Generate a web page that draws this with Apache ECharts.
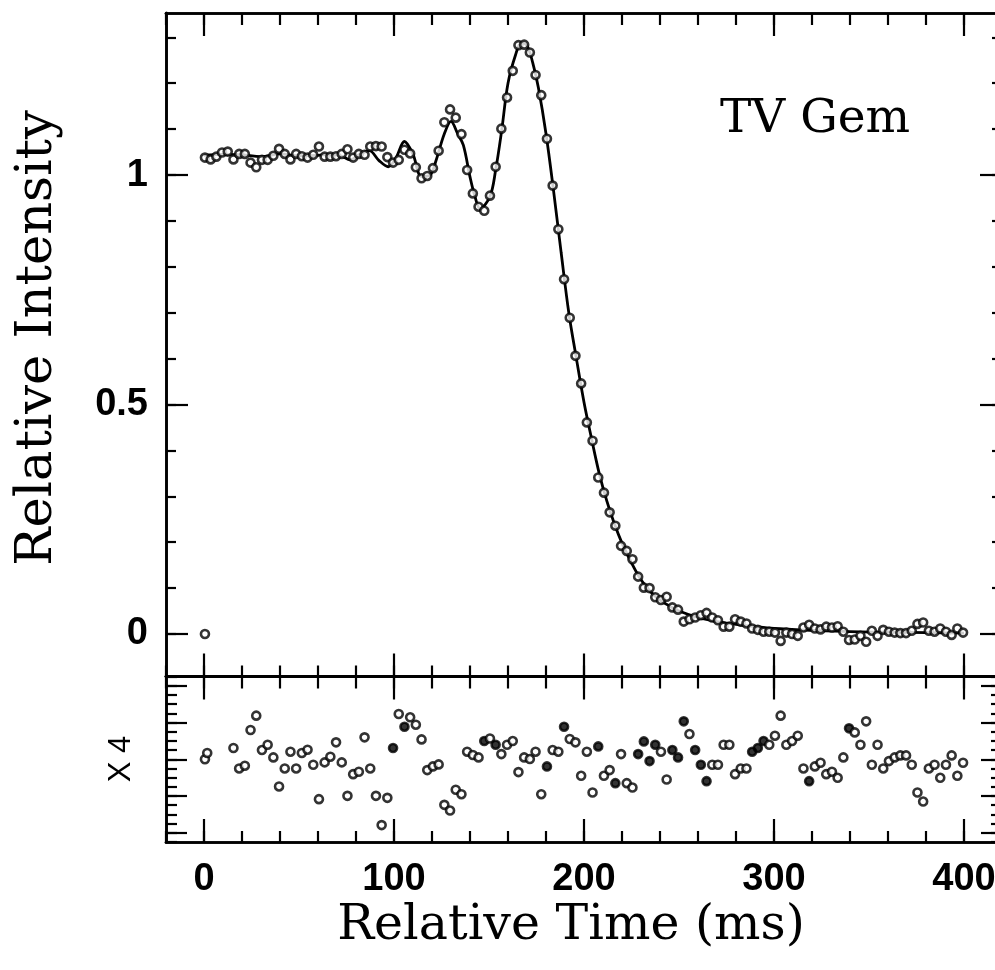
<!DOCTYPE html>
<html>
<head>
<meta charset="utf-8">
<script src="https://cdn.jsdelivr.net/npm/echarts@6/dist/echarts.min.js"></script>
<style>
html,body{margin:0;padding:0;background:#fff;}
#c{width:995px;height:970px;}
</style>
</head>
<body>
<div id="c"></div>
<script>
// ---------------- data ----------------
const timeMs = [
0.5,3.5,6.5,9.5,12.5,15.5,18.5,21.5,24.5,27.5,
30.5,33.5,36.5,39.5,42.5,45.5,48.5,51.5,54.5,57.5,
60.5,63.5,66.5,69.5,72.5,75.5,78.5,81.5,84.5,87.5,
90.5,93.5,96.5,99.5,102.5,105.5,108.5,111.5,114.5,117.5,
120.5,123.5,126.5,129.5,132.5,135.5,138.5,141.5,144.5,147.5,
150.5,153.5,156.5,159.5,162.5,165.5,168.5,171.5,174.5,177.5,
180.5,183.5,186.5,189.5,192.5,195.5,198.5,201.5,204.5,207.5,
210.5,213.5,216.5,219.5,222.5,225.5,228.5,231.5,234.5,237.5,
240.5,243.5,246.5,249.5,252.5,255.5,258.5,261.5,264.5,267.5,
270.5,273.5,276.5,279.5,282.5,285.5,288.5,291.5,294.5,297.5,
300.5,303.5,306.5,309.5,312.5,315.5,318.5,321.5,324.5,327.5,
330.5,333.5,336.5,339.5,342.5,345.5,348.5,351.5,354.5,357.5,
360.5,363.5,366.5,369.5,372.5,375.5,378.5,381.5,384.5,387.5,
390.5,393.5,396.5,399.5
];
const intensity = [
1.038,1.034,1.040,1.049,1.051,1.034,1.046,1.046,1.027,1.017,
1.033,1.033,1.042,1.057,1.046,1.034,1.046,1.041,1.038,1.044,
1.062,1.040,1.040,1.041,1.046,1.056,1.038,1.046,1.044,1.062,
1.063,1.062,1.039,1.027,1.033,1.055,1.047,1.017,0.993,0.998,
1.015,1.053,1.115,1.143,1.125,1.089,1.011,0.960,0.931,0.922,
0.955,1.018,1.101,1.169,1.227,1.283,1.284,1.267,1.218,1.174,
1.079,0.977,0.882,0.773,0.689,0.606,0.546,0.461,0.421,0.341,
0.308,0.265,0.236,0.192,0.181,0.163,0.125,0.101,0.100,0.080,
0.074,0.081,0.058,0.053,0.027,0.032,0.036,0.041,0.046,0.036,
0.030,0.016,0.016,0.032,0.027,0.023,0.012,0.009,0.005,0.005,
0.003,-0.015,0.003,0.000,-0.004,0.014,0.020,0.012,0.010,0.016,
0.014,0.017,0.005,-0.013,-0.012,-0.004,-0.017,0.007,-0.004,0.009,
0.005,0.003,0.002,0.002,0.007,0.022,0.025,0.007,0.005,0.012,
0.005,-0.002,0.012,0.003
];
// isolated zero-level marker
const zeroMarkTime = [0.5];
const zeroMarkValue = [0.0];

// fitted model curve
const modelTime = [
0,10,20,30,40,50,60,66,72,77,82,87,92,97,101,105.5,110,114.5,119,122,
126.5,130,133.5,136.5,140,142.5,145.3,150.5,153.5,156.7,160,164,167,170,173,176,180,184,188,192,
196,200,204,208,212,216,220,225,230,235,240,245,250,260,270,280,290,300,320,340,
360,380,400
];
const modelIntensity = [
1.043,1.045,1.044,1.040,1.046,1.042,1.043,1.045,1.042,1.033,1.045,1.053,1.032,1.018,1.037,1.073,1.045,0.997,1.000,1.030,
1.090,1.117,1.090,1.065,0.996,0.955,0.927,0.953,1.011,1.098,1.200,1.262,1.288,1.282,1.245,1.190,1.090,0.965,0.830,0.700,
0.600,0.505,0.425,0.350,0.290,0.240,0.198,0.155,0.118,0.092,0.074,0.061,0.050,0.036,0.027,0.021,0.016,0.012,0.008,0.005,
0.004,0.003,0.002
];

// residuals (observed - model), plotted magnified x4
const residualTime = [
0.5,1.7,
15.5,18.5,21.5,24.5,27.5,
30.5,33.5,36.5,39.5,42.5,45.5,48.5,51.5,54.5,57.5,
60.5,63.5,66.5,69.5,72.5,75.5,78.5,81.5,84.5,87.5,
90.5,93.5,96.5,99.5,102.5,105.5,108.5,111.5,114.5,117.5,
120.5,123.5,126.5,129.5,132.5,135.5,138.5,141.5,144.5,147.5,
150.5,153.5,156.5,159.5,162.5,165.5,168.5,171.5,174.5,177.5,
180.5,183.5,186.5,189.5,192.5,195.5,198.5,201.5,204.5,207.5,
210.5,213.5,216.5,219.5,222.5,225.5,228.5,231.5,234.5,237.5,
240.5,243.5,246.5,249.5,252.5,255.5,258.5,261.5,264.5,267.5,
270.5,273.5,276.5,279.5,282.5,285.5,288.5,291.5,294.5,297.5,
300.5,303.5,306.5,309.5,312.5,315.5,318.5,321.5,324.5,327.5,
330.5,333.5,336.5,339.5,342.5,345.5,348.5,351.5,354.5,357.5,
360.5,363.5,366.5,369.5,372.5,375.5,378.5,381.5,384.5,387.5,
390.5,393.5,396.5,399.5
];
const residual = [
0.0000,0.0034,
0.0061,-0.0050,-0.0035,0.0159,0.0237,
0.0050,0.0079,0.0010,-0.0148,-0.0050,0.0041,-0.0050,0.0034,0.0052,-0.0030,
-0.0217,-0.0017,0.0014,0.0092,-0.0017,-0.0199,-0.0081,-0.0068,0.0119,-0.0050,
-0.0199,-0.0358,-0.0210,0.0061,0.0246,0.0177,0.0228,0.0188,0.0108,-0.0059,
-0.0039,-0.0028,-0.0248,-0.0279,-0.0166,-0.0190,0.0041,0.0023,0.0010,0.0099,
0.0113,0.0079,0.0028,0.0079,0.0099,-0.0070,0.0010,0.0001,0.0041,-0.0190,
-0.0039,0.0050,0.0041,0.0177,0.0110,0.0092,-0.0090,0.0041,-0.0181,0.0070,
-0.0090,-0.0059,-0.0130,0.0028,-0.0130,-0.0154,0.0028,0.0097,-0.0010,0.0079,
0.0041,-0.0110,0.0050,0.0010,0.0206,0.0137,0.0050,-0.0030,-0.0119,-0.0030,
-0.0030,0.0079,0.0079,-0.0081,-0.0050,-0.0050,0.0041,0.0061,0.0099,0.0079,
0.0128,0.0237,0.0079,0.0099,0.0128,-0.0050,-0.0119,-0.0039,-0.0019,-0.0081,
-0.0068,-0.0101,0.0010,0.0168,0.0146,0.0079,0.0206,-0.0030,0.0079,-0.0050,
-0.0010,0.0010,0.0021,0.0021,-0.0030,-0.0181,-0.0230,-0.0050,-0.0030,-0.0101,
-0.0030,0.0021,-0.0090,-0.0019
];
// residual points that print as solid dots
const residualSolidTimes = [99.5,105.5,147.5,153.5,180.5,189.5,207.5,216.5,228.5,231.5,234.5,237.5,246.5,249.5,252.5,258.5,261.5,264.5,288.5,291.5,294.5,318.5,339.5];

// tick positions / labels
const xMinorTicks = [-20,0,20,40,60,80,100,120,140,160,180,200,220,240,260,280,300,320,340,360,380,400,420];
const xMajorTicks = [0,100,200,300,400];
const xTickLabels = [0,100,200,300,400];
const yMinorTicks = [0,0.1,0.2,0.3,0.4,0.5,0.6,0.7,0.8,0.9,1.0,1.1,1.2,1.3];
const yMajorTicks = [0,0.5,1];
const yTickLabels = [0,0.5,1];
const resMinorTicks = [-0.045,-0.04,-0.035,-0.03,-0.025,-0.02,-0.015,-0.01,-0.005,0,0.005,0.01,0.015,0.02,0.025,0.03,0.035,0.04,0.045];
const resMajorTicks = [-0.04,-0.02,0,0.02,0.04];

// ---------------- chart ----------------
const INK = '#000';
const LABEL_FONT = {color: INK, fontFamily: 'Liberation Sans', fontWeight: 'bold', fontSize: 38};

function xAxisDef(grid, pos, ticks, len, labels) {
  return {
    type: 'value', gridIndex: grid, position: pos, min: -20, max: 420,
    axisLine: {show: true, onZero: false, lineStyle: {color: INK, width: 2.6}},
    axisTick: {show: true, inside: true, length: len, customValues: ticks, lineStyle: {color: INK, width: 2.2}},
    axisLabel: labels ? Object.assign({show: true, customValues: labels, margin: 19}, LABEL_FONT) : {show: false},
    splitLine: {show: false}
  };
}
function yAxisDef(grid, pos, min, max, ticks, len, labels) {
  return {
    type: 'value', gridIndex: grid, position: pos, min: min, max: max,
    axisLine: {show: true, onZero: false, lineStyle: {color: INK, width: 2.6}},
    axisTick: {show: true, inside: true, length: len, customValues: ticks, lineStyle: {color: INK, width: 2.2}},
    axisLabel: labels ? Object.assign({show: true, customValues: labels, margin: 18}, LABEL_FONT) : {show: false},
    splitLine: {show: false}
  };
}

const MAIN_MIN = -0.0926, MAIN_MAX = 1.353;
const RES_MIN = -0.045, RES_MAX = 0.045;

const xAxes = [
  xAxisDef(0, 'bottom', xMinorTicks, 11),
  xAxisDef(0, 'bottom', xMajorTicks, 23),
  xAxisDef(0, 'top', xMinorTicks, 12),
  xAxisDef(0, 'top', xMajorTicks, 23),
  xAxisDef(1, 'bottom', xMinorTicks, 11),
  xAxisDef(1, 'bottom', xMajorTicks, 23, xTickLabels),
  xAxisDef(1, 'top', xMinorTicks, 12),
  xAxisDef(1, 'top', xMajorTicks, 23)
];
const yAxes = [
  yAxisDef(0, 'left', MAIN_MIN, MAIN_MAX, yMinorTicks, 10),
  yAxisDef(0, 'left', MAIN_MIN, MAIN_MAX, yMajorTicks, 22, yTickLabels),
  yAxisDef(0, 'right', MAIN_MIN, MAIN_MAX, yMinorTicks, 10),
  yAxisDef(0, 'right', MAIN_MIN, MAIN_MAX, yMajorTicks, 22),
  yAxisDef(1, 'left', RES_MIN, RES_MAX, resMinorTicks, 11),
  yAxisDef(1, 'left', RES_MIN, RES_MAX, resMajorTicks, 21),
  yAxisDef(1, 'right', RES_MIN, RES_MAX, resMinorTicks, 11),
  yAxisDef(1, 'right', RES_MIN, RES_MAX, resMajorTicks, 21)
];

const hollow = {color: '#fff', borderColor: INK, borderWidth: 2.6};

const option = {
  animation: false,
  backgroundColor: '#fff',
  grid: [
    {left: 166, top: 13, width: 836, height: 663.5, containLabel: false, outerBoundsMode: 'none'},
    {left: 166, top: 676.5, width: 836, height: 165.5, containLabel: false, outerBoundsMode: 'none'}
  ],
  xAxis: xAxes,
  yAxis: yAxes,
  graphic: [
    {type: 'text', x: 815, y: 120, style: {text: 'TV Gem', font: '47px "DejaVu Serif"', fill: INK, align: 'center', verticalAlign: 'middle'}},
    {type: 'text', x: 571, y: 926, style: {text: 'Relative Time (ms)', font: '49px "DejaVu Serif"', fill: INK, align: 'center', verticalAlign: 'middle'}},
    {type: 'text', x: 38, y: 338, rotation: Math.PI / 2, style: {text: 'Relative Intensity', font: '51px "DejaVu Serif"', fill: INK, align: 'center', verticalAlign: 'middle'}},
    {type: 'text', x: 121, y: 759, rotation: Math.PI / 2, style: {text: 'X 4', font: '31px "Liberation Sans"', fill: INK, align: 'center', verticalAlign: 'middle'}}
  ],
  series: [
    {
      name: 'model', type: 'line', xAxisIndex: 0, yAxisIndex: 0,
      data: modelTime.map((t, i) => [t, modelIntensity[i]]),
      smooth: 0.35, showSymbol: false, symbol: 'none',
      lineStyle: {color: INK, width: 2.8}, z: 2
    },
    {
      name: 'observed', type: 'scatter', xAxisIndex: 0, yAxisIndex: 0,
      data: timeMs.map((t, i) => [t, intensity[i]]),
      symbol: 'circle', symbolSize: 8, itemStyle: hollow, z: 3
    },
    {
      name: 'zero', type: 'scatter', xAxisIndex: 0, yAxisIndex: 0,
      data: zeroMarkTime.map((t, i) => [t, zeroMarkValue[i]]),
      symbol: 'circle', symbolSize: 8, itemStyle: hollow, z: 3
    },
    {
      name: 'residual', type: 'scatter', xAxisIndex: 4, yAxisIndex: 4,
      data: residualTime.map((t, i) => {
        const solid = residualSolidTimes.indexOf(t) >= 0;
        return solid ? {value: [t, residual[i]], itemStyle: {color: INK, borderColor: INK, borderWidth: 2.6}} : [t, residual[i]];
      }),
      symbol: 'circle', symbolSize: 8, itemStyle: hollow, z: 3
    }
  ]
};

const chart = echarts.init(document.getElementById('c'), null, {renderer: 'canvas'});
chart.setOption(option);
</script>
</body>
</html>
